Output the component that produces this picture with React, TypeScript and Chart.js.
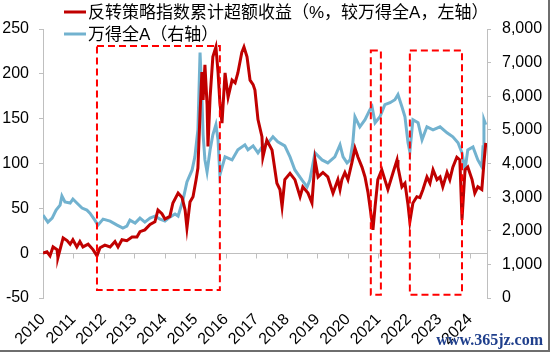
import React, { useEffect, useRef } from "react";
import { Chart, registerables } from "chart.js";

Chart.register(...registerables);

// x axis: years
const yearTicks = [2010, 2011, 2012, 2013, 2014, 2015, 2016, 2017, 2018, 2019, 2020, 2021, 2022, 2023, 2024];
const xMin = 2010;
const xMax = 2024.56;

// left axis (%), right axis (index)
const leftTicks = [-50, 0, 50, 100, 150, 200, 250];
const rightTicks = [0, 1000, 2000, 3000, 4000, 5000, 6000, 7000, 8000];

const redLabel = "反转策略指数累计超额收益（%，较万得全A，左轴）";
const blueLabel = "万得全A（右轴）";

// Reversal strategy cumulative excess return (%)
const redT = [
  2010.00, 2010.13, 2010.23, 2010.33, 2010.46, 2010.49, 2010.66, 2010.79, 2010.89, 2010.98,
  2011.11, 2011.21, 2011.31, 2011.48, 2011.64, 2011.77, 2011.87, 2012.03, 2012.20, 2012.36,
  2012.46, 2012.59, 2012.75, 2012.92, 2013.08, 2013.18, 2013.34, 2013.51, 2013.67, 2013.77,
  2013.90, 2014.00, 2014.16, 2014.26, 2014.43, 2014.56, 2014.66, 2014.72, 2014.82, 2014.92,
  2015.02, 2015.08, 2015.15, 2015.21, 2015.25, 2015.31, 2015.38, 2015.41, 2015.48, 2015.57,
  2015.67, 2015.74, 2015.80, 2015.87, 2015.97, 2016.07, 2016.20, 2016.30, 2016.39, 2016.52,
  2016.59, 2016.69, 2016.79, 2016.89, 2016.95, 2017.05, 2017.18, 2017.21, 2017.34, 2017.51,
  2017.67, 2017.77, 2017.84, 2017.93, 2018.10, 2018.26, 2018.43, 2018.52, 2018.69, 2018.82,
  2018.92, 2019.02, 2019.18, 2019.34, 2019.51, 2019.67, 2019.74, 2019.80, 2019.90, 2020.00,
  2020.13, 2020.23, 2020.33, 2020.46, 2020.56, 2020.66, 2020.79, 2020.82, 2020.89, 2020.98,
  2021.11, 2021.21, 2021.31, 2021.48, 2021.61, 2021.64, 2021.77, 2021.87, 2021.97, 2022.03,
  2022.13, 2022.26, 2022.36, 2022.46, 2022.59, 2022.69, 2022.79, 2022.92, 2023.02, 2023.11,
  2023.25, 2023.34, 2023.44, 2023.57, 2023.67, 2023.74, 2023.84, 2023.93, 2024.07, 2024.16,
  2024.26, 2024.39, 2024.46, 2024.52,
];
const redV = [
  0, 1.5, -3, 7, 4, -5, 17, 14, 10, 15,
  7, 13, 7, 10, 4, -3, 6, 9, 7, 13,
  7, 15, 14, 18, 18, 24, 26, 32, 35, 48,
  44, 38, 41, 56, 67, 62, 48, 28, 57, 63,
  82, 95, 156, 202, 171, 210, 166, 119, 174, 219,
  230, 202, 168, 145, 201, 174, 193, 190, 201, 224,
  230, 219, 193, 188, 182, 149, 130, 107, 126, 115,
  78, 71, 52, 82, 89, 82, 63, 74, 67, 56,
  104, 85, 90, 85, 67, 82, 71, 82, 90, 82,
  101, 117, 107, 96, 85, 67, 35, 26, 52, 82,
  93, 82, 71, 90, 104, 96, 74, 78, 54, 35,
  56, 63, 62, 71, 85, 78, 93, 82, 85, 74,
  90, 82, 96, 107, 104, 37, 93, 96, 82, 67,
  74, 71, 101, 123,
];

// Wind All A index
const blueT = [
  2010.00, 2010.16, 2010.30, 2010.43, 2010.56, 2010.62, 2010.72, 2010.89, 2010.98, 2011.11,
  2011.28, 2011.44, 2011.54, 2011.70, 2011.80, 2011.97, 2012.20, 2012.43, 2012.62, 2012.75,
  2012.85, 2013.02, 2013.18, 2013.34, 2013.51, 2013.67, 2013.84, 2014.00, 2014.16, 2014.33,
  2014.43, 2014.59, 2014.72, 2014.89, 2014.98, 2015.08, 2015.15, 2015.21, 2015.25, 2015.31,
  2015.38, 2015.48, 2015.57, 2015.67, 2015.74, 2015.80, 2015.97, 2016.20, 2016.39, 2016.62,
  2016.72, 2016.89, 2017.05, 2017.21, 2017.38, 2017.54, 2017.70, 2017.93, 2018.10, 2018.26,
  2018.49, 2018.66, 2018.75, 2018.92, 2019.15, 2019.34, 2019.57, 2019.74, 2019.84, 2019.97,
  2020.07, 2020.16, 2020.23, 2020.39, 2020.56, 2020.72, 2020.79, 2020.89, 2021.05, 2021.21,
  2021.38, 2021.54, 2021.64, 2021.77, 2021.87, 2021.97, 2022.03, 2022.13, 2022.30, 2022.43,
  2022.59, 2022.79, 2023.02, 2023.25, 2023.44, 2023.61, 2023.74, 2023.84, 2023.93, 2024.10,
  2024.26, 2024.39, 2024.43, 2024.46, 2024.52,
];
const blueV = [
  2466, 2257, 2376, 2615, 2764, 3033, 2854, 2824, 2943, 2824,
  2675, 2615, 2525, 2316, 2167, 2346, 2287, 2167, 2078, 2137,
  2316, 2227, 2376, 2257, 2376, 2436, 2346, 2287, 2406, 2496,
  2436, 2913, 3451, 3809, 4197, 5003, 7301, 5988, 4854, 4107,
  3749, 4406, 4854, 5152, 4704, 3660, 4197, 4107, 4406, 4555,
  4406, 4525, 4316, 4525, 4615, 4794, 4645, 4525, 4197, 3809,
  3510, 3301, 3510, 4316, 4107, 4018, 4197, 4555, 4197, 4018,
  4107, 4615, 5391, 5092, 5301, 5600, 5689, 5212, 5391, 5749,
  5809, 5898, 6048, 5689, 5391, 4615, 4346, 5301, 5212, 4704,
  5092, 5003, 5092, 4913, 4794, 4615, 4316, 3809, 4406, 4495,
  4107, 3898, 4495, 5301, 5152,
];

// highlighted periods (dashed boxes), in axis units
const boxStart = [2011.77, 2020.75, 2022.03];
const boxEnd = [2015.80, 2021.08, 2023.74];
const boxTop = [231, 226, 226];
const boxBottom = [-41, -46.5, -46.5];

const FONT = "'Liberation Sans', Arial, 'Noto Sans CJK SC', sans-serif";
const RED = "#C00000";
const BLUE = "#72B2CF";
const AXIS_GRAY = "#BFBFBF";

export default function App() {
  const ref = useRef<HTMLCanvasElement>(null);

  useEffect(() => {
    document.body.style.margin = "0";
    const canvas = ref.current;
    if (!canvas) return;

    const overlay = {
      id: "overlay",
      beforeDatasetsDraw(chart: any) {
        const ctx = chart.ctx;
        const xs = chart.scales.x;
        const yl = chart.scales.yL;
        const { left, right } = chart.chartArea;
        const y0 = Math.round(yl.getPixelForValue(0)) + 0.5;
        ctx.save();
        ctx.strokeStyle = AXIS_GRAY;
        ctx.lineWidth = 1;
        ctx.beginPath();
        ctx.moveTo(left, y0);
        ctx.lineTo(right, y0);
        yearTicks.forEach((v) => {
          const x = Math.round(xs.getPixelForValue(v)) + 0.5;
          ctx.moveTo(x, y0);
          ctx.lineTo(x, y0 + 5);
        });
        ctx.stroke();
        ctx.restore();
      },
      afterDatasetsDraw(chart: any) {
        const ctx = chart.ctx;
        const xs = chart.scales.x;
        const yl = chart.scales.yL;
        ctx.save();
        ctx.strokeStyle = "#FF0000";
        ctx.lineWidth = 2;
        ctx.setLineDash([7, 4]);
        boxStart.forEach((s, i) => {
          const x1 = xs.getPixelForValue(s);
          const x2 = xs.getPixelForValue(boxEnd[i]);
          const y1 = yl.getPixelForValue(boxTop[i]);
          const y2 = yl.getPixelForValue(boxBottom[i]);
          ctx.strokeRect(x1, y1, x2 - x1, y2 - y1);
        });
        ctx.restore();
      },
      afterDraw(chart: any) {
        const ctx = chart.ctx;
        const { left } = chart.chartArea;
        ctx.save();
        chart.data.datasets.forEach((ds: any, i: number) => {
          const y = 12 + i * 22;
          ctx.strokeStyle = ds.borderColor;
          ctx.lineWidth = 3;
          ctx.beginPath();
          ctx.moveTo(left + 21, y);
          ctx.lineTo(left + 43, y);
          ctx.stroke();
          ctx.fillStyle = "#000";
          ctx.font = `17px ${FONT}`;
          ctx.textBaseline = "middle";
          ctx.textAlign = "left";
          ctx.fillText(ds.label, left + 45, y + 1);
        });
        // source watermark
        ctx.font = "bold 16px 'Liberation Serif', serif";
        ctx.fillStyle = "#1F3F8C";
        ctx.textAlign = "right";
        ctx.textBaseline = "alphabetic";
        ctx.fillText("www.365jz.com", 543, 345);
        // frame edge
        ctx.fillStyle = "#6E6E6E";
        ctx.fillRect(548, 0, 2, 352);
        ctx.fillRect(0, 350, 550, 2);
        ctx.restore();
      },
    };

    const chart = new Chart(canvas, {
      type: "line",
      data: {
        datasets: [
          {
            label: redLabel,
            data: redT.map((t, i) => ({ x: t, y: redV[i] })),
            borderColor: RED,
            backgroundColor: RED,
            borderWidth: 3,
            pointRadius: 0,
            tension: 0,
            yAxisID: "yL",
          },
          {
            label: blueLabel,
            data: blueT.map((t, i) => ({ x: t, y: blueV[i] })),
            borderColor: BLUE,
            backgroundColor: BLUE,
            borderWidth: 3,
            pointRadius: 0,
            tension: 0,
            yAxisID: "yR",
          },
        ],
      },
      options: {
        responsive: false,
        devicePixelRatio: 1,
        animation: false,
        layout: { padding: { top: 29, left: 0, right: 0, bottom: 0 } },
        plugins: { legend: { display: false }, tooltip: { enabled: false } },
        scales: {
          x: {
            type: "linear",
            min: xMin,
            max: xMax,
            grid: { display: false, drawTicks: false },
            border: { display: false },
            ticks: {
              autoSkip: false,
              includeBounds: false,
              minRotation: 45,
              maxRotation: 45,
              padding: 12,
              color: "#000",
              font: { family: FONT, size: 16 },
              callback: (v: any) => String(v),
            },
            afterBuildTicks: (s: any) => {
              s.ticks = yearTicks.map((v) => ({ value: v }));
            },
            afterFit: (s: any) => {
              s.height = 54;
            },
          },
          yL: {
            position: "left",
            min: -50,
            max: 250,
            grid: { display: true, drawOnChartArea: false, drawTicks: true, tickLength: 4, color: AXIS_GRAY },
            border: { display: true, color: AXIS_GRAY },
            ticks: {
              padding: 10,
              color: "#000",
              font: { family: FONT, size: 16 },
              callback: (v: any) => String(v),
            },
            afterBuildTicks: (s: any) => {
              s.ticks = leftTicks.map((v) => ({ value: v }));
            },
            afterFit: (s: any) => {
              s.width = 43;
            },
          },
          yR: {
            position: "right",
            min: 0,
            max: 8000,
            grid: { display: true, drawOnChartArea: false, drawTicks: true, tickLength: 4, color: AXIS_GRAY },
            border: { display: true, color: AXIS_GRAY },
            ticks: {
              padding: 11,
              color: "#000",
              font: { family: FONT, size: 16 },
              callback: (v: any) => Number(v).toLocaleString("en-US"),
            },
            afterBuildTicks: (s: any) => {
              s.ticks = rightTicks.map((v) => ({ value: v }));
            },
            afterFit: (s: any) => {
              s.width = 63;
            },
          },
        },
      },
      plugins: [overlay],
    } as any);

    return () => chart.destroy();
  }, []);

  return (
    <div style={{ position: "fixed", left: 0, top: 0, width: 550, height: 352, background: "#fff" }}>
      <canvas ref={ref} width={550} height={352} style={{ display: "block" }} />
    </div>
  );
}
